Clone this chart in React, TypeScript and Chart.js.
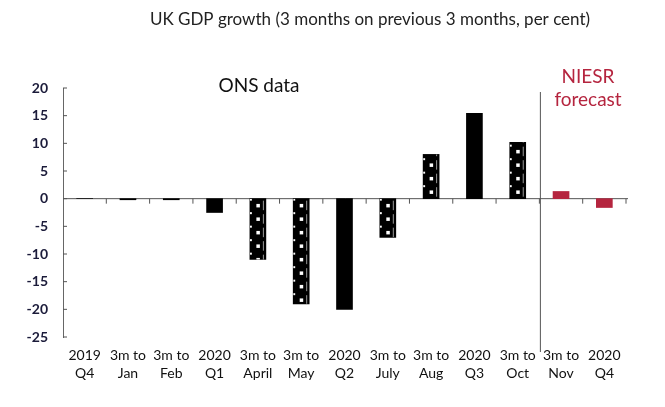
import React, { useEffect, useRef } from "react";
import { Chart, registerables } from "chart.js";

Chart.register(...registerables);

const line1 = ["2019", "3m to", "3m to", "2020", "3m to", "3m to", "2020", "3m to", "3m to", "2020", "3m to", "3m to", "2020"];
const line2 = ["Q4", "Jan", "Feb", "Q1", "April", "May", "Q2", "July", "Aug", "Q3", "Oct", "Nov", "Q4"];
const growth = [0, -0.2, -0.2, -2.5, -11.0, -19.0, -20.0, -7.0, 8.0, 15.4, 10.2, 1.3, -1.6];
const dotted = [4, 5, 7, 8, 10];
const forecast = [11, 12];
const yTicks = [20, 15, 10, 5, 0, -5, -10, -15, -20, -25];

const TITLE = "UK GDP growth (3 months on previous 3 months, per cent)";
const FONT = "Lato, 'Open Sans', sans-serif";
const RED = "#B5253F";

const overlay = {
  id: "overlay",
  beforeDatasetsDraw(chart: any) {
    const { ctx, chartArea } = chart;
    const y = chart.scales.y;
    const x = chart.scales.x;
    const y0 = y.getPixelForValue(0);
    ctx.save();
    ctx.strokeStyle = "#555";
    ctx.lineWidth = 1;
    ctx.beginPath();
    ctx.moveTo(chartArea.left, y0);
    ctx.lineTo(chartArea.right + 2, y0);
    const n = line1.length;
    for (let i = 1; i <= n; i++) {
      const bx = i < n ? (x.getPixelForValue(i - 1) + x.getPixelForValue(i)) / 2 : chartArea.right;
      ctx.moveTo(bx, y0);
      ctx.lineTo(bx, y0 + 5);
    }
    // y axis inward ticks
    yTicks.forEach((v) => {
      const py = y.getPixelForValue(v);
      ctx.moveTo(chartArea.left, py);
      ctx.lineTo(chartArea.left + 4, py);
    });
    ctx.stroke();
    ctx.restore();
  },
  afterDatasetsDraw(chart: any) {
    const { ctx } = chart;
    const meta = chart.getDatasetMeta(0);
    ctx.save();
    dotted.forEach((i) => {
      const el: any = meta.data[i];
      const top = Math.min(el.y, el.base);
      const bot = Math.max(el.y, el.base);
      const left = el.x - el.width / 2;
      const right = el.x + el.width / 2;
      ctx.save();
      ctx.beginPath();
      ctx.rect(left, top, right - left, bot - top);
      ctx.clip();
      const cell = 13.5;
      const up = el.y < el.base;
      const count = Math.ceil((bot - top) / cell);
      for (let k = 0; k < count; k++) {
        const c0 = up ? el.base - (k + 1) * cell : el.base + k * cell;
        ctx.fillStyle = "#fff";
        ctx.fillRect(el.x - 1.5, c0 + cell / 2 - 1.5, 3.5, 3.5);
        ctx.fillRect(left, c0, 2, 2);
        ctx.fillStyle = "rgba(255,255,255,0.6)";
        ctx.fillRect(right - 3, c0 + 2, 1, cell - 4);
      }
      ctx.restore();
    });
    ctx.restore();
  },
  afterDraw(chart: any) {
    const { ctx, chartArea } = chart;
    const x = chart.scales.x;
    ctx.save();
    // divider between data and forecast
    const dx = (x.getPixelForValue(10) + x.getPixelForValue(11)) / 2 + 1;
    ctx.strokeStyle = "#555";
    ctx.lineWidth = 1;
    ctx.beginPath();
    ctx.moveTo(dx, chartArea.top + 4);
    ctx.lineTo(dx, chartArea.bottom + 15);
    ctx.stroke();

    ctx.textAlign = "center";
    ctx.textBaseline = "middle";
    ctx.fillStyle = "#222";
    ctx.font = `17px ${FONT}`;
    ctx.fillText(TITLE, 370, 20);
    ctx.fillStyle = "#111";
    ctx.font = `19px ${FONT}`;
    ctx.fillText("ONS data", 259, 86);
    ctx.fillStyle = RED;
    ctx.fillText("NIESR", 588, 77);
    ctx.fillText("forecast", 588, 100);
    ctx.restore();
  },
};

export default function App() {
  const ref = useRef<HTMLCanvasElement>(null);
  useEffect(() => {
    document.body.style.margin = "0";
    const canvas = ref.current!;
    const chart = new Chart(canvas, {
      type: "bar",
      data: {
        labels: line1.map((l, i) => [l, line2[i]]),
        datasets: [
          {
            data: growth,
            backgroundColor: growth.map((_, i) => (forecast.includes(i) ? RED : "#000")),
            barThickness: 16,
            borderWidth: 0,
          },
        ],
      },
      options: {
        responsive: false,
        animation: false,
        layout: { padding: { left: 0, right: 39, top: 88, bottom: 0 } },
        plugins: { legend: { display: false }, tooltip: { enabled: false }, title: { display: false } },
        scales: {
          x: {
            grid: { display: false, drawTicks: false },
            border: { display: false },
            ticks: {
              autoSkip: false,
              maxRotation: 0,
              padding: 10,
              color: "#111",
              font: { family: FONT, size: 14, lineHeight: 1.25 },
            },
            afterFit: (s: any) => {
              s.height = 70;
            },
          },
          y: {
            min: -25,
            max: 20,
            grid: { display: false, drawTicks: false },
            border: { display: true, color: "#666", width: 1 },
            ticks: {
              stepSize: 5,
              padding: 15,
              color: "#1b1b3a",
              font: { family: FONT, size: 14, weight: "bold" },
            },
            afterFit: (s: any) => {
              s.width = 63;
            },
          },
        },
      },
      plugins: [overlay],
    });
    return () => chart.destroy();
  }, []);
  return (
    <div style={{ width: 665, height: 407, background: "#fff" }}>
      <canvas ref={ref} width={665} height={407} />
    </div>
  );
}
